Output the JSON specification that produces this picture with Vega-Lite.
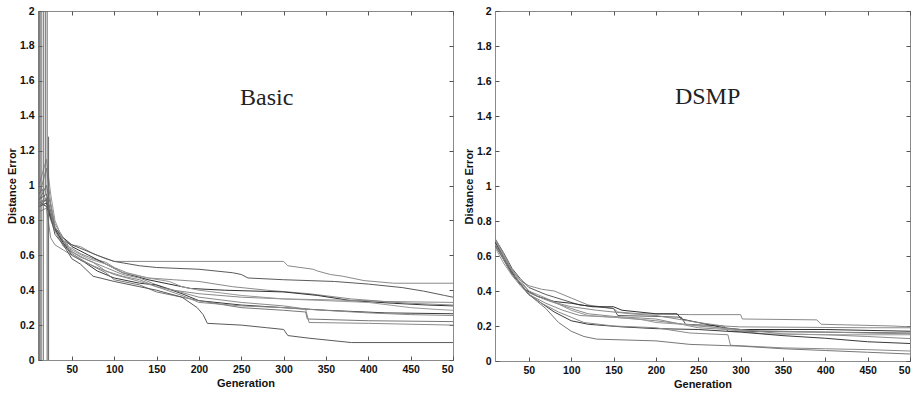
{
  "$schema": "https://vega.github.io/schema/vega-lite/v6.json",
  "background": "white",
  "padding": {"left": 5, "top": 5, "right": 0, "bottom": 0},
  "spacing": 8,
  "config": {
    "view": {"stroke": "#8a8a8a", "strokeWidth": 1},
    "axis": {
      "grid": false, "domain": false,
      "labelFont": "Liberation Sans", "labelFontWeight": "bold", "labelFontSize": 10.5, "labelColor": "#111",
      "titleFont": "Liberation Sans", "titleFontWeight": "bold", "titleFontSize": 11, "titleColor": "#111",
      "tickColor": "#555", "tickSize": -4, "labelPadding": 8
    }
  },
  "datasets": {
    "basic": [
      {"run":"b1","gen":11,"err":0.95},{"run":"b1","gen":15,"err":0.98},{"run":"b1","gen":20,"err":0.9},{"run":"b1","gen":25,"err":0.8},{"run":"b1","gen":30,"err":0.74},{"run":"b1","gen":40,"err":0.68},{"run":"b1","gen":50,"err":0.66},{"run":"b1","gen":60,"err":0.65},{"run":"b1","gen":75,"err":0.61},{"run":"b1","gen":90,"err":0.58},{"run":"b1","gen":100,"err":0.565},{"run":"b1","gen":300,"err":0.565},{"run":"b1","gen":305,"err":0.54},{"run":"b1","gen":335,"err":0.52},{"run":"b1","gen":340,"err":0.51},{"run":"b1","gen":355,"err":0.49},{"run":"b1","gen":370,"err":0.48},{"run":"b1","gen":395,"err":0.455},{"run":"b1","gen":430,"err":0.44},{"run":"b1","gen":500,"err":0.44},
      {"run":"b2","gen":11,"err":0.92},{"run":"b2","gen":20,"err":0.95},{"run":"b2","gen":25,"err":0.85},{"run":"b2","gen":30,"err":0.76},{"run":"b2","gen":40,"err":0.7},{"run":"b2","gen":50,"err":0.66},{"run":"b2","gen":65,"err":0.63},{"run":"b2","gen":80,"err":0.6},{"run":"b2","gen":100,"err":0.565},{"run":"b2","gen":130,"err":0.54},{"run":"b2","gen":150,"err":0.53},{"run":"b2","gen":200,"err":0.52},{"run":"b2","gen":240,"err":0.5},{"run":"b2","gen":250,"err":0.49},{"run":"b2","gen":258,"err":0.47},{"run":"b2","gen":300,"err":0.46},{"run":"b2","gen":360,"err":0.45},{"run":"b2","gen":400,"err":0.435},{"run":"b2","gen":440,"err":0.415},{"run":"b2","gen":465,"err":0.395},{"run":"b2","gen":490,"err":0.37},{"run":"b2","gen":500,"err":0.36},
      {"run":"b3","gen":12,"err":0.9},{"run":"b3","gen":20,"err":0.92},{"run":"b3","gen":30,"err":0.75},{"run":"b3","gen":40,"err":0.66},{"run":"b3","gen":50,"err":0.64},{"run":"b3","gen":60,"err":0.61},{"run":"b3","gen":75,"err":0.58},{"run":"b3","gen":90,"err":0.56},{"run":"b3","gen":100,"err":0.53},{"run":"b3","gen":115,"err":0.5},{"run":"b3","gen":140,"err":0.47},{"run":"b3","gen":170,"err":0.46},{"run":"b3","gen":200,"err":0.45},{"run":"b3","gen":240,"err":0.42},{"run":"b3","gen":280,"err":0.4},{"run":"b3","gen":330,"err":0.38},{"run":"b3","gen":380,"err":0.35},{"run":"b3","gen":420,"err":0.335},{"run":"b3","gen":500,"err":0.33},
      {"run":"b4","gen":13,"err":0.9},{"run":"b4","gen":20,"err":0.88},{"run":"b4","gen":30,"err":0.75},{"run":"b4","gen":40,"err":0.7},{"run":"b4","gen":50,"err":0.65},{"run":"b4","gen":70,"err":0.6},{"run":"b4","gen":90,"err":0.55},{"run":"b4","gen":110,"err":0.5},{"run":"b4","gen":140,"err":0.46},{"run":"b4","gen":160,"err":0.44},{"run":"b4","gen":190,"err":0.41},{"run":"b4","gen":230,"err":0.4},{"run":"b4","gen":300,"err":0.39},{"run":"b4","gen":340,"err":0.37},{"run":"b4","gen":380,"err":0.34},{"run":"b4","gen":430,"err":0.325},{"run":"b4","gen":470,"err":0.315},{"run":"b4","gen":500,"err":0.31},
      {"run":"b5","gen":12,"err":0.95},{"run":"b5","gen":20,"err":1.1},{"run":"b5","gen":25,"err":0.9},{"run":"b5","gen":30,"err":0.78},{"run":"b5","gen":40,"err":0.7},{"run":"b5","gen":50,"err":0.62},{"run":"b5","gen":70,"err":0.57},{"run":"b5","gen":90,"err":0.53},{"run":"b5","gen":110,"err":0.49},{"run":"b5","gen":130,"err":0.47},{"run":"b5","gen":150,"err":0.43},{"run":"b5","gen":170,"err":0.4},{"run":"b5","gen":200,"err":0.38},{"run":"b5","gen":250,"err":0.36},{"run":"b5","gen":300,"err":0.35},{"run":"b5","gen":350,"err":0.345},{"run":"b5","gen":400,"err":0.34},{"run":"b5","gen":450,"err":0.325},{"run":"b5","gen":500,"err":0.315},
      {"run":"b6","gen":11,"err":1.0},{"run":"b6","gen":20,"err":1.15},{"run":"b6","gen":25,"err":0.95},{"run":"b6","gen":30,"err":0.8},{"run":"b6","gen":40,"err":0.68},{"run":"b6","gen":50,"err":0.63},{"run":"b6","gen":70,"err":0.58},{"run":"b6","gen":90,"err":0.55},{"run":"b6","gen":110,"err":0.5},{"run":"b6","gen":140,"err":0.47},{"run":"b6","gen":165,"err":0.45},{"run":"b6","gen":180,"err":0.42},{"run":"b6","gen":200,"err":0.4},{"run":"b6","gen":250,"err":0.37},{"run":"b6","gen":300,"err":0.35},{"run":"b6","gen":350,"err":0.34},{"run":"b6","gen":400,"err":0.33},{"run":"b6","gen":450,"err":0.3},{"run":"b6","gen":480,"err":0.29},{"run":"b6","gen":500,"err":0.285},
      {"run":"b7","gen":12,"err":0.88},{"run":"b7","gen":20,"err":0.9},{"run":"b7","gen":30,"err":0.75},{"run":"b7","gen":40,"err":0.67},{"run":"b7","gen":50,"err":0.6},{"run":"b7","gen":65,"err":0.56},{"run":"b7","gen":80,"err":0.51},{"run":"b7","gen":100,"err":0.47},{"run":"b7","gen":130,"err":0.44},{"run":"b7","gen":150,"err":0.43},{"run":"b7","gen":180,"err":0.38},{"run":"b7","gen":200,"err":0.34},{"run":"b7","gen":250,"err":0.315},{"run":"b7","gen":300,"err":0.3},{"run":"b7","gen":350,"err":0.285},{"run":"b7","gen":420,"err":0.27},{"run":"b7","gen":500,"err":0.265},
      {"run":"b8","gen":11,"err":0.9},{"run":"b8","gen":20,"err":0.93},{"run":"b8","gen":30,"err":0.74},{"run":"b8","gen":40,"err":0.65},{"run":"b8","gen":50,"err":0.62},{"run":"b8","gen":60,"err":0.59},{"run":"b8","gen":75,"err":0.56},{"run":"b8","gen":90,"err":0.51},{"run":"b8","gen":110,"err":0.48},{"run":"b8","gen":130,"err":0.46},{"run":"b8","gen":150,"err":0.42},{"run":"b8","gen":170,"err":0.4},{"run":"b8","gen":200,"err":0.36},{"run":"b8","gen":250,"err":0.33},{"run":"b8","gen":300,"err":0.31},{"run":"b8","gen":330,"err":0.29},{"run":"b8","gen":400,"err":0.27},{"run":"b8","gen":450,"err":0.26},{"run":"b8","gen":500,"err":0.255},
      {"run":"b9","gen":12,"err":0.92},{"run":"b9","gen":20,"err":1.0},{"run":"b9","gen":30,"err":0.76},{"run":"b9","gen":40,"err":0.68},{"run":"b9","gen":50,"err":0.61},{"run":"b9","gen":70,"err":0.55},{"run":"b9","gen":90,"err":0.5},{"run":"b9","gen":100,"err":0.46},{"run":"b9","gen":130,"err":0.43},{"run":"b9","gen":150,"err":0.39},{"run":"b9","gen":170,"err":0.37},{"run":"b9","gen":200,"err":0.34},{"run":"b9","gen":250,"err":0.3},{"run":"b9","gen":300,"err":0.285},{"run":"b9","gen":326,"err":0.275},{"run":"b9","gen":328,"err":0.235},{"run":"b9","gen":400,"err":0.225},{"run":"b9","gen":500,"err":0.22},
      {"run":"b10","gen":11,"err":0.85},{"run":"b10","gen":20,"err":0.87},{"run":"b10","gen":25,"err":0.7},{"run":"b10","gen":30,"err":0.66},{"run":"b10","gen":40,"err":0.63},{"run":"b10","gen":50,"err":0.6},{"run":"b10","gen":75,"err":0.54},{"run":"b10","gen":100,"err":0.49},{"run":"b10","gen":130,"err":0.45},{"run":"b10","gen":150,"err":0.42},{"run":"b10","gen":180,"err":0.37},{"run":"b10","gen":200,"err":0.33},{"run":"b10","gen":250,"err":0.31},{"run":"b10","gen":300,"err":0.3},{"run":"b10","gen":326,"err":0.29},{"run":"b10","gen":330,"err":0.215},{"run":"b10","gen":400,"err":0.21},{"run":"b10","gen":500,"err":0.2},
      {"run":"b11","gen":11,"err":0.88},{"run":"b11","gen":20,"err":0.92},{"run":"b11","gen":30,"err":0.72},{"run":"b11","gen":40,"err":0.66},{"run":"b11","gen":50,"err":0.58},{"run":"b11","gen":60,"err":0.55},{"run":"b11","gen":75,"err":0.48},{"run":"b11","gen":100,"err":0.45},{"run":"b11","gen":130,"err":0.42},{"run":"b11","gen":150,"err":0.4},{"run":"b11","gen":180,"err":0.36},{"run":"b11","gen":198,"err":0.3},{"run":"b11","gen":205,"err":0.26},{"run":"b11","gen":210,"err":0.21},{"run":"b11","gen":250,"err":0.2},{"run":"b11","gen":280,"err":0.185},{"run":"b11","gen":300,"err":0.175},{"run":"b11","gen":305,"err":0.14},{"run":"b11","gen":330,"err":0.125},{"run":"b11","gen":380,"err":0.1},{"run":"b11","gen":500,"err":0.1}
    ],
    "dsmp": [
      {"run":"d1","gen":10,"err":0.68},{"run":"d1","gen":20,"err":0.6},{"run":"d1","gen":30,"err":0.52},{"run":"d1","gen":40,"err":0.46},{"run":"d1","gen":50,"err":0.43},{"run":"d1","gen":65,"err":0.41},{"run":"d1","gen":80,"err":0.4},{"run":"d1","gen":100,"err":0.36},{"run":"d1","gen":120,"err":0.32},{"run":"d1","gen":150,"err":0.3},{"run":"d1","gen":155,"err":0.28},{"run":"d1","gen":180,"err":0.27},{"run":"d1","gen":240,"err":0.265},{"run":"d1","gen":300,"err":0.265},{"run":"d1","gen":302,"err":0.24},{"run":"d1","gen":390,"err":0.235},{"run":"d1","gen":395,"err":0.21},{"run":"d1","gen":480,"err":0.2},{"run":"d1","gen":500,"err":0.195},
      {"run":"d2","gen":10,"err":0.7},{"run":"d2","gen":20,"err":0.62},{"run":"d2","gen":30,"err":0.53},{"run":"d2","gen":40,"err":0.47},{"run":"d2","gen":50,"err":0.42},{"run":"d2","gen":70,"err":0.38},{"run":"d2","gen":90,"err":0.35},{"run":"d2","gen":110,"err":0.32},{"run":"d2","gen":150,"err":0.3},{"run":"d2","gen":155,"err":0.26},{"run":"d2","gen":200,"err":0.255},{"run":"d2","gen":230,"err":0.25},{"run":"d2","gen":235,"err":0.21},{"run":"d2","gen":280,"err":0.2},{"run":"d2","gen":285,"err":0.17},{"run":"d2","gen":400,"err":0.165},{"run":"d2","gen":500,"err":0.16},
      {"run":"d3","gen":10,"err":0.69},{"run":"d3","gen":20,"err":0.6},{"run":"d3","gen":30,"err":0.5},{"run":"d3","gen":40,"err":0.44},{"run":"d3","gen":50,"err":0.39},{"run":"d3","gen":70,"err":0.35},{"run":"d3","gen":100,"err":0.3},{"run":"d3","gen":120,"err":0.27},{"run":"d3","gen":150,"err":0.255},{"run":"d3","gen":200,"err":0.24},{"run":"d3","gen":250,"err":0.19},{"run":"d3","gen":300,"err":0.175},{"run":"d3","gen":400,"err":0.165},{"run":"d3","gen":450,"err":0.16},{"run":"d3","gen":500,"err":0.155},
      {"run":"d4","gen":10,"err":0.66},{"run":"d4","gen":25,"err":0.55},{"run":"d4","gen":35,"err":0.47},{"run":"d4","gen":45,"err":0.41},{"run":"d4","gen":60,"err":0.37},{"run":"d4","gen":80,"err":0.34},{"run":"d4","gen":100,"err":0.33},{"run":"d4","gen":125,"err":0.31},{"run":"d4","gen":150,"err":0.31},{"run":"d4","gen":160,"err":0.29},{"run":"d4","gen":200,"err":0.27},{"run":"d4","gen":225,"err":0.27},{"run":"d4","gen":230,"err":0.24},{"run":"d4","gen":250,"err":0.22},{"run":"d4","gen":280,"err":0.19},{"run":"d4","gen":300,"err":0.18},{"run":"d4","gen":400,"err":0.18},{"run":"d4","gen":500,"err":0.17},
      {"run":"d5","gen":10,"err":0.67},{"run":"d5","gen":20,"err":0.58},{"run":"d5","gen":30,"err":0.49},{"run":"d5","gen":40,"err":0.43},{"run":"d5","gen":50,"err":0.38},{"run":"d5","gen":70,"err":0.33},{"run":"d5","gen":90,"err":0.29},{"run":"d5","gen":110,"err":0.26},{"run":"d5","gen":150,"err":0.25},{"run":"d5","gen":200,"err":0.23},{"run":"d5","gen":250,"err":0.2},{"run":"d5","gen":300,"err":0.18},{"run":"d5","gen":350,"err":0.155},{"run":"d5","gen":400,"err":0.15},{"run":"d5","gen":450,"err":0.14},{"run":"d5","gen":500,"err":0.128},
      {"run":"d6","gen":10,"err":0.65},{"run":"d6","gen":20,"err":0.56},{"run":"d6","gen":30,"err":0.49},{"run":"d6","gen":40,"err":0.45},{"run":"d6","gen":50,"err":0.4},{"run":"d6","gen":70,"err":0.36},{"run":"d6","gen":100,"err":0.29},{"run":"d6","gen":120,"err":0.26},{"run":"d6","gen":180,"err":0.24},{"run":"d6","gen":200,"err":0.22},{"run":"d6","gen":260,"err":0.2},{"run":"d6","gen":300,"err":0.17},{"run":"d6","gen":330,"err":0.155},{"run":"d6","gen":400,"err":0.15},{"run":"d6","gen":500,"err":0.15},
      {"run":"d7","gen":10,"err":0.68},{"run":"d7","gen":20,"err":0.59},{"run":"d7","gen":30,"err":0.5},{"run":"d7","gen":40,"err":0.44},{"run":"d7","gen":50,"err":0.38},{"run":"d7","gen":65,"err":0.33},{"run":"d7","gen":80,"err":0.28},{"run":"d7","gen":100,"err":0.23},{"run":"d7","gen":120,"err":0.21},{"run":"d7","gen":160,"err":0.195},{"run":"d7","gen":200,"err":0.185},{"run":"d7","gen":250,"err":0.18},{"run":"d7","gen":300,"err":0.165},{"run":"d7","gen":350,"err":0.145},{"run":"d7","gen":400,"err":0.13},{"run":"d7","gen":450,"err":0.11},{"run":"d7","gen":500,"err":0.1},
      {"run":"d8","gen":10,"err":0.67},{"run":"d8","gen":25,"err":0.55},{"run":"d8","gen":35,"err":0.48},{"run":"d8","gen":50,"err":0.38},{"run":"d8","gen":65,"err":0.33},{"run":"d8","gen":85,"err":0.28},{"run":"d8","gen":100,"err":0.25},{"run":"d8","gen":115,"err":0.22},{"run":"d8","gen":150,"err":0.2},{"run":"d8","gen":200,"err":0.19},{"run":"d8","gen":240,"err":0.16},{"run":"d8","gen":285,"err":0.15},{"run":"d8","gen":288,"err":0.09},{"run":"d8","gen":350,"err":0.075},{"run":"d8","gen":400,"err":0.07},{"run":"d8","gen":450,"err":0.065},{"run":"d8","gen":500,"err":0.057},
      {"run":"d9","gen":10,"err":0.66},{"run":"d9","gen":20,"err":0.58},{"run":"d9","gen":30,"err":0.5},{"run":"d9","gen":40,"err":0.44},{"run":"d9","gen":50,"err":0.38},{"run":"d9","gen":60,"err":0.34},{"run":"d9","gen":70,"err":0.3},{"run":"d9","gen":85,"err":0.22},{"run":"d9","gen":100,"err":0.17},{"run":"d9","gen":115,"err":0.14},{"run":"d9","gen":130,"err":0.125},{"run":"d9","gen":200,"err":0.115},{"run":"d9","gen":240,"err":0.095},{"run":"d9","gen":300,"err":0.085},{"run":"d9","gen":350,"err":0.07},{"run":"d9","gen":400,"err":0.06},{"run":"d9","gen":450,"err":0.05},{"run":"d9","gen":500,"err":0.04},
      {"run":"d10","gen":10,"err":0.7},{"run":"d10","gen":20,"err":0.61},{"run":"d10","gen":30,"err":0.52},{"run":"d10","gen":40,"err":0.46},{"run":"d10","gen":50,"err":0.4},{"run":"d10","gen":60,"err":0.37},{"run":"d10","gen":80,"err":0.335},{"run":"d10","gen":100,"err":0.31},{"run":"d10","gen":130,"err":0.29},{"run":"d10","gen":170,"err":0.27},{"run":"d10","gen":200,"err":0.26},{"run":"d10","gen":250,"err":0.22},{"run":"d10","gen":280,"err":0.2},{"run":"d10","gen":300,"err":0.195},{"run":"d10","gen":450,"err":0.19},{"run":"d10","gen":500,"err":0.19}
    ],
    "spikes": [
      {"gen":11.3,"lo":0,"hi":2},{"gen":12.3,"lo":0,"hi":2},{"gen":13.7,"lo":0,"hi":2},{"gen":16.2,"lo":0,"hi":2},{"gen":18.6,"lo":0.95,"hi":2},{"gen":20.8,"lo":0,"hi":2},{"gen":22.5,"lo":0,"hi":1.28}
    ],
    "labels": [
      {"panel":"Basic","label":"Basic","gen":280,"err":1.5},
      {"panel":"DSMP","label":"DSMP","gen":261,"err":1.51}
    ]
  },
  "hconcat": [
    {
      "width": 415, "height": 349,
      "resolve": {"axis": {"x": "independent", "y": "independent"}},
      "layer": [
        {
          "data": {"name": "basic"},
          "mark": {"type": "line", "clip": true, "strokeWidth": 1},
          "encoding": {
            "x": {"field": "gen", "type": "quantitative", "scale": {"domain": [10, 500], "nice": false, "zero": false},
                  "axis": {"title": "Generation", "values": [50,100,150,200,250,300,350,400,450,500], "format": "d", "labelExpr": "datum.value == 500 ? '50' : datum.label", "titlePadding": 3}},
            "y": {"field": "err", "type": "quantitative", "scale": {"domain": [0, 2], "nice": false},
                  "axis": {"title": "Distance Error", "values": [0,0.2,0.4,0.6,0.8,1,1.2,1.4,1.6,1.8,2], "format": "~g", "titlePadding": 2}},
            "color": {"field": "run", "type": "nominal", "legend": null,
                      "scale": {"domain": ["b1","b2","b3","b4","b5","b6","b7","b8","b9","b10","b11"],
                                "range": ["#8a8a8a","#5a5a5a","#8a8a8a","#303030","#8a8a8a","#999999","#3a3a3a","#8a8a8a","#777777","#8a8a8a","#5a5a5a"]}}
          }
        },
        {
          "data": {"name": "spikes"},
          "mark": {"type": "rule", "color": "#666666", "strokeWidth": 1, "clip": true},
          "encoding": {
            "x": {"field": "gen", "type": "quantitative", "axis": null},
            "y": {"field": "lo", "type": "quantitative", "axis": null},
            "y2": {"field": "hi"}
          }
        },
        {
          "data": {"name": "labels"},
          "transform": [{"filter": "datum.panel == 'Basic'"}],
          "mark": {"type": "text", "font": "Liberation Serif", "fontSize": 24, "color": "#222222", "baseline": "middle", "align": "center"},
          "encoding": {
            "x": {"field": "gen", "type": "quantitative", "axis": {"orient": "top", "labels": false, "title": null, "values": [50,100,150,200,250,300,350,400,450,500]}},
            "y": {"field": "err", "type": "quantitative", "axis": {"orient": "right", "labels": false, "title": null, "values": [0,0.2,0.4,0.6,0.8,1,1.2,1.4,1.6,1.8,2]}},
            "text": {"field": "label"}
          }
        }
      ]
    },
    {
      "width": 415, "height": 350,
      "resolve": {"axis": {"x": "independent", "y": "independent"}},
      "layer": [
        {
          "data": {"name": "dsmp"},
          "mark": {"type": "line", "clip": true, "strokeWidth": 1},
          "encoding": {
            "x": {"field": "gen", "type": "quantitative", "scale": {"domain": [10, 500], "nice": false, "zero": false},
                  "axis": {"title": "Generation", "values": [50,100,150,200,250,300,350,400,450,500], "format": "d", "labelExpr": "datum.value == 500 ? '50' : datum.label", "titlePadding": 3}},
            "y": {"field": "err", "type": "quantitative", "scale": {"domain": [0, 2], "nice": false},
                  "axis": {"title": "Distance Error", "values": [0,0.2,0.4,0.6,0.8,1,1.2,1.4,1.6,1.8,2], "format": "~g", "titlePadding": 2}},
            "color": {"field": "run", "type": "nominal", "legend": null,
                      "scale": {"domain": ["d1","d2","d3","d4","d5","d6","d7","d8","d9","d10"],
                                "range": ["#8a8a8a","#8a8a8a","#303030","#777777","#3a3a3a","#999999","#777777","#8a8a8a","#777777","#8a8a8a"]}}
          }
        },
        {
          "data": {"name": "labels"},
          "transform": [{"filter": "datum.panel == 'DSMP'"}],
          "mark": {"type": "text", "font": "Liberation Serif", "fontSize": 24, "color": "#222222", "baseline": "middle", "align": "center"},
          "encoding": {
            "x": {"field": "gen", "type": "quantitative", "axis": {"orient": "top", "labels": false, "title": null, "values": [50,100,150,200,250,300,350,400,450,500]}},
            "y": {"field": "err", "type": "quantitative", "axis": {"orient": "right", "labels": false, "title": null, "values": [0,0.2,0.4,0.6,0.8,1,1.2,1.4,1.6,1.8,2]}},
            "text": {"field": "label"}
          }
        }
      ]
    }
  ]
}
